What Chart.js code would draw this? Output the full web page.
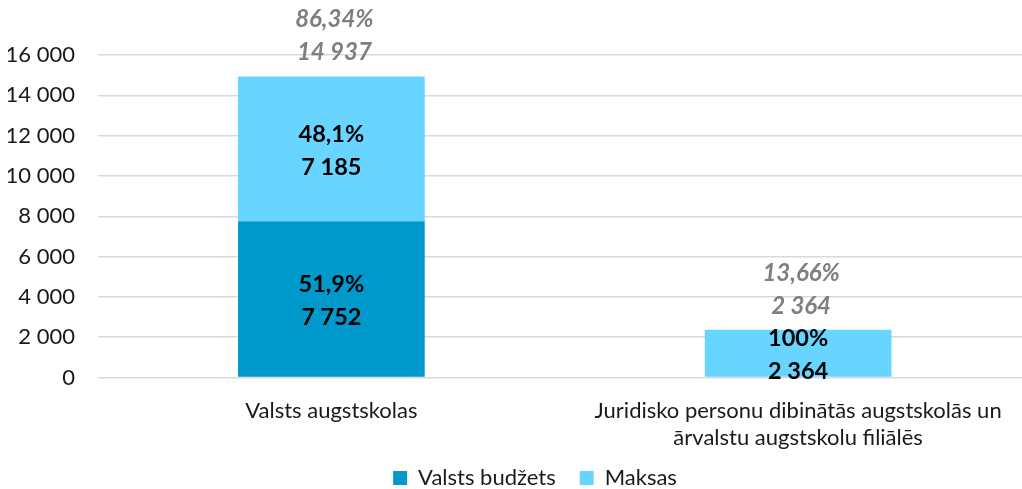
<!DOCTYPE html>
<html>
<head>
<meta charset="utf-8">
<script src="https://cdn.jsdelivr.net/npm/chart.js@4"></script>
<style>
  html, body { margin: 0; padding: 0; background: #fff; overflow: hidden; }
  #wrap { width: 1045px; height: 489px; }
</style>
</head>
<body>
<div id="wrap"><canvas id="chart" width="1045" height="489"></canvas></div>
<script>
// dati
const categories = [
    'Valsts augstskolas',
    ['Juridisko personu dibinātās augstskolās un', 'ārvalstu augstskolu filiālēs']
];
const budgetValues = [7752, 0];
const paidValues = [7185, 2364];
const yTicks = [0, 2000, 4000, 6000, 8000, 10000, 12000, 14000, 16000];

const colors = {
    budget: '#0099cc',
    paid: '#67d5ff',
    grid: '#d9d9d9',
    text: '#1a1a1a',
    grey: '#7f7f7f'
};
const fontFamily = "'Lato', 'Open Sans', sans-serif";

// 16 000 formāts
function fmt(v) {
    return String(v).replace(/\B(?=(\d{3})+(?!\d))/g, ' ');
}
function pct(v, digits) {
    let s = v.toFixed(digits).replace('.', ',');
    if (/,0+$/.test(s)) s = s.replace(/,0+$/, '');
    return s + '%';
}

const totals = categories.map((c, i) => budgetValues[i] + paidValues[i]);
const grandTotal = totals.reduce((a, b) => a + b, 0);

// etiķetes stabiņos un virs tiem
const labelPlugin = {
    id: 'barLabels',
    afterLayout(chart) {
        // leģendu novieto kā oriģinālā
        const lg = chart.legend;
        const pad = lg.options.labels.padding;
        const dx = 535 - (lg.left + lg.right) / 2;
        const dy = 478 - (lg.top + pad + 11);
        lg.left += dx; lg.right += dx;
        lg.top += dy; lg.bottom += dy;
    },
    afterDatasetsDraw(chart) {
        const ctx = chart.ctx;
        ctx.save();
        ctx.textAlign = 'center';
        ctx.textBaseline = 'middle';
        const lineGap = 33;

        chart.data.datasets.forEach((ds, di) => {
            const meta = chart.getDatasetMeta(di);
            meta.data.forEach((bar, i) => {
                const v = ds.data[i];
                if (!v) return;
                const mid = (bar.y + bar.base) / 2 + 2;
                ctx.fillStyle = '#000';
                ctx.font = `bold 23.5px ${fontFamily}`;
                ctx.fillText(pct(v / totals[i] * 100, 1), bar.x, mid - lineGap / 2);
                ctx.fillText(fmt(v), bar.x, mid + lineGap / 2);
            });
        });

        const topMeta = chart.getDatasetMeta(chart.data.datasets.length - 1);
        topMeta.data.forEach((bar, i) => {
            const top = bar.y;
            ctx.fillStyle = colors.grey;
            ctx.font = `italic bold 24px ${fontFamily}`;
            ctx.fillText(fmt(totals[i]), bar.x + 3, top - 24);
            ctx.fillText(pct(totals[i] / grandTotal * 100, 2), bar.x + 3, top - 24 - lineGap);
        });
        ctx.restore();
    }
};

new Chart(document.getElementById('chart'), {
    type: 'bar',
    data: {
        labels: categories,
        datasets: [
            {
                label: 'Valsts budžets',
                data: budgetValues,
                backgroundColor: colors.budget,
                categoryPercentage: 0.8,
                barPercentage: 0.5
            },
            {
                label: 'Maksas',
                data: paidValues,
                backgroundColor: colors.paid,
                categoryPercentage: 0.8,
                barPercentage: 0.5
            }
        ]
    },
    options: {
        responsive: false,
        animation: false,
        devicePixelRatio: 1,
        layout: {
            padding: { top: 55, left: 8, right: 13.5, bottom: -20 }
        },
        plugins: {
            legend: {
                position: 'bottom',
                labels: {
                    color: colors.text,
                    font: { family: fontFamily, size: 22 },
                    boxWidth: 14,
                    boxHeight: 14,
                    padding: 24
                }
            },
            tooltip: { enabled: false },
            title: { display: false }
        },
        scales: {
            x: {
                stacked: true,
                grid: { display: false },
                border: { display: false },
                ticks: {
                    color: colors.text,
                    font: { family: fontFamily, size: 22, lineHeight: 1.23 },
                    maxRotation: 0,
                    autoSkip: false,
                    padding: 12
                },
                afterFit(scale) { scale.height = 75.5; }
            },
            y: {
                stacked: true,
                min: 0,
                max: 16000,
                afterBuildTicks(scale) {
                    scale.ticks = yTicks.map(v => ({ value: v }));
                },
                grid: { color: colors.grid, lineWidth: 1.5, drawTicks: false },
                border: { display: false },
                ticks: {
                    color: colors.text,
                    font: { family: fontFamily, size: 22 },
                    padding: 23,
                    callback: v => fmt(v)
                },
                afterFit(scale) { scale.width = 90; }
            }
        }
    },
    plugins: [labelPlugin]
});
</script>
</body>
</html>
